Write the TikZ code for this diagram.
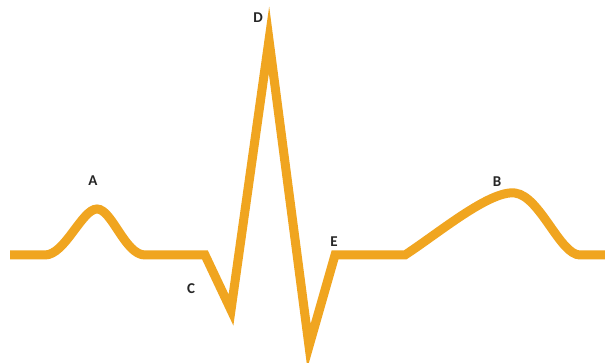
\documentclass[tikz,border=0pt]{standalone}
\usepackage{fontspec}
\setmainfont{Carlito}
\definecolor{ecg}{RGB}{240,165,32}
\tikzset{
  wave/.style={draw=ecg, line width=9pt, line join=miter, miter limit=12},
  lbl/.style={font=\bfseries\fontsize{15}{15}\selectfont, text=black!85, inner sep=0pt}
}
\begin{document}
\begin{tikzpicture}[x=1pt,y=-1pt]
\useasboundingbox (0,0) rectangle (605,363);
\fill[white] (0,0) rectangle (605,363);
\draw[wave] (10,255) -- (45,255)
  .. controls (65,255) and (82,209) .. (97,209)
  .. controls (112,209) and (125,255) .. (145,255)
  -- (205,255) -- (231,310) -- (269,40) -- (309,346) -- (335,255) -- (405,255)
  .. controls (440,232) and (490,190) .. (515,193)
  .. controls (540,196) and (560,255) .. (580,255) -- (605,255);
\node[lbl] (A) at (93,181) {A};
\node[lbl] (B) at (497,182) {B};
\node[lbl] (C) at (191,289) {C};
\node[lbl] (D) at (258,18) {D};
\node[lbl] (E) at (334,242) {E};
\end{tikzpicture}
\end{document}
